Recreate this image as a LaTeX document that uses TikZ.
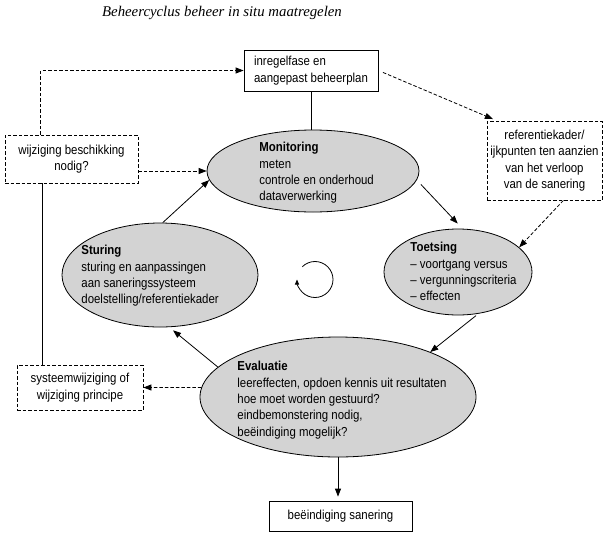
\documentclass[tikz,border=0pt]{standalone}
\usepackage{fontspec}
\setmainfont{Liberation Sans}[FakeStretch=0.88]
\newfontfamily\titleFont{Liberation Serif}
\usetikzlibrary{shapes.geometric, arrows.meta}
\definecolor{phaseGray}{RGB}{211,211,211}
\tikzstyle{diagram} = [x = 1pt, y = -1pt, font=\fontsize{13}{16.3}\selectfont, line width=.8pt]
\tikzstyle{phaseStyle} = [ellipse, draw, fill=phaseGray, inner sep=0]
\tikzstyle{phaseText} = [anchor=north west, align=left, inner sep=0]
\tikzstyle{solidBox} = [draw, inner sep=0, align=center]
\tikzstyle{dashedBox} = [solidBox, dash pattern=on 3.5pt off 2pt]
\tikzstyle{cycleArrow} = [-{Triangle[length=8pt, width=6pt]}]
\tikzstyle{dashedArrow} = [cycleArrow, dash pattern=on 3.5pt off 2pt]
\newcommand{\phase}[4]{\node [phaseStyle, minimum width=#3, minimum height=#4] (#1) at (#2) {};}

\begin{document}
\begin{tikzpicture}[diagram]
\useasboundingbox (0,0) rectangle (611,539);
% title
\node [anchor=base, font=\titleFont\itshape\fontsize{14.8}{17}\selectfont] (title) at (222,16.5) {Beheercyclus beheer in situ maatregelen};
% boxes
\node [solidBox, minimum width=134pt, minimum height=41pt, align=left] (plan) at (311,70.5) {inregelfase en\\aangepast beheerplan};
\node [dashedBox, minimum width=133pt, minimum height=48pt] (wijziging) at (71.5,159) {wijziging beschikking\\nodig?};
\node [dashedBox, minimum width=115pt, minimum height=79pt] (referentie) at (544.5,160.5) {referentiekader/\\ijkpunten ten aanzien\\van het verloop\\van de sanering};
\node [dashedBox, minimum width=126pt, minimum height=45pt] (systeem) at (80,387.5) {systeemwijziging of\\wijziging principe};
\node [solidBox, minimum width=143pt, minimum height=30pt] (einde) at (340.5,516) {beëindiging sanering};
% phases of the cycle
\phase{monitoring}{313,171}{212pt}{82pt}
\phase{toetsing}{458,272}{148pt}{86pt}
\phase{evaluatie}{338,397}{276pt}{120pt}
\phase{sturing}{160,275}{196pt}{104pt}
\node [phaseText] (monitoringText) at (259,142) {\textbf{Monitoring}\\meten\\controle en onderhoud\\dataverwerking};
\node [phaseText] (toetsingText) at (410,242) {\textbf{Toetsing}\\-- voortgang versus\\-- vergunningscriteria\\-- effecten};
\node [phaseText] (evaluatieText) at (237,361) {\textbf{Evaluatie}\\leereffecten, opdoen kennis uit resultaten\\hoe moet worden gestuurd?\\eindbemonstering nodig,\\beëindiging mogelijk?};
\node [phaseText] (sturingText) at (81,245) {\textbf{Sturing}\\sturing en aanpassingen\\aan saneringssysteem\\doelstelling/referentiekader};
% cycle
\draw [cycleArrow, shorten <=6pt, shorten >=7pt] (monitoring.-5) -- (toetsing.84);
\draw [cycleArrow, shorten <=3pt] (toetsing.-64) -- (evaluatie.26);
\draw [cycleArrow, shorten >=5pt] (evaluatie.166) -- (sturing.-80);
\draw [cycleArrow] (sturing.87) -- (monitoring.185);
\coordinate (cycleCenter) at (315,279.5);
\draw [-{Triangle[length=5pt, width=4pt]}] (cycleCenter) ++(-135:18) arc [start angle=-135, end angle=180, radius=18];
% side connections
\draw (plan.south) -- (plan.south |- monitoring.north);
\draw [dashedArrow] ([xshift=36pt]wijziging.north west) |- (plan.west);
\draw [dashedArrow] (monitoring.west -| wijziging.east) -- (monitoring.west);
\draw ([xshift=38pt]wijziging.south west) -- ([xshift=38pt]wijziging.south west |- systeem.north);
\draw [dashedArrow, shorten <=5pt, shorten >=4pt] (plan.east) -- ([xshift=10pt]referentie.north west);
\draw [dashedArrow] ([xshift=-39pt]referentie.south east) -- (toetsing.22);
\draw [dashedArrow] (evaluatie.176) -- (systeem.east);
\draw [cycleArrow, shorten >=4pt] (evaluatie.south) -- (evaluatie.south |- einde.north);
\end{tikzpicture}
\end{document}
